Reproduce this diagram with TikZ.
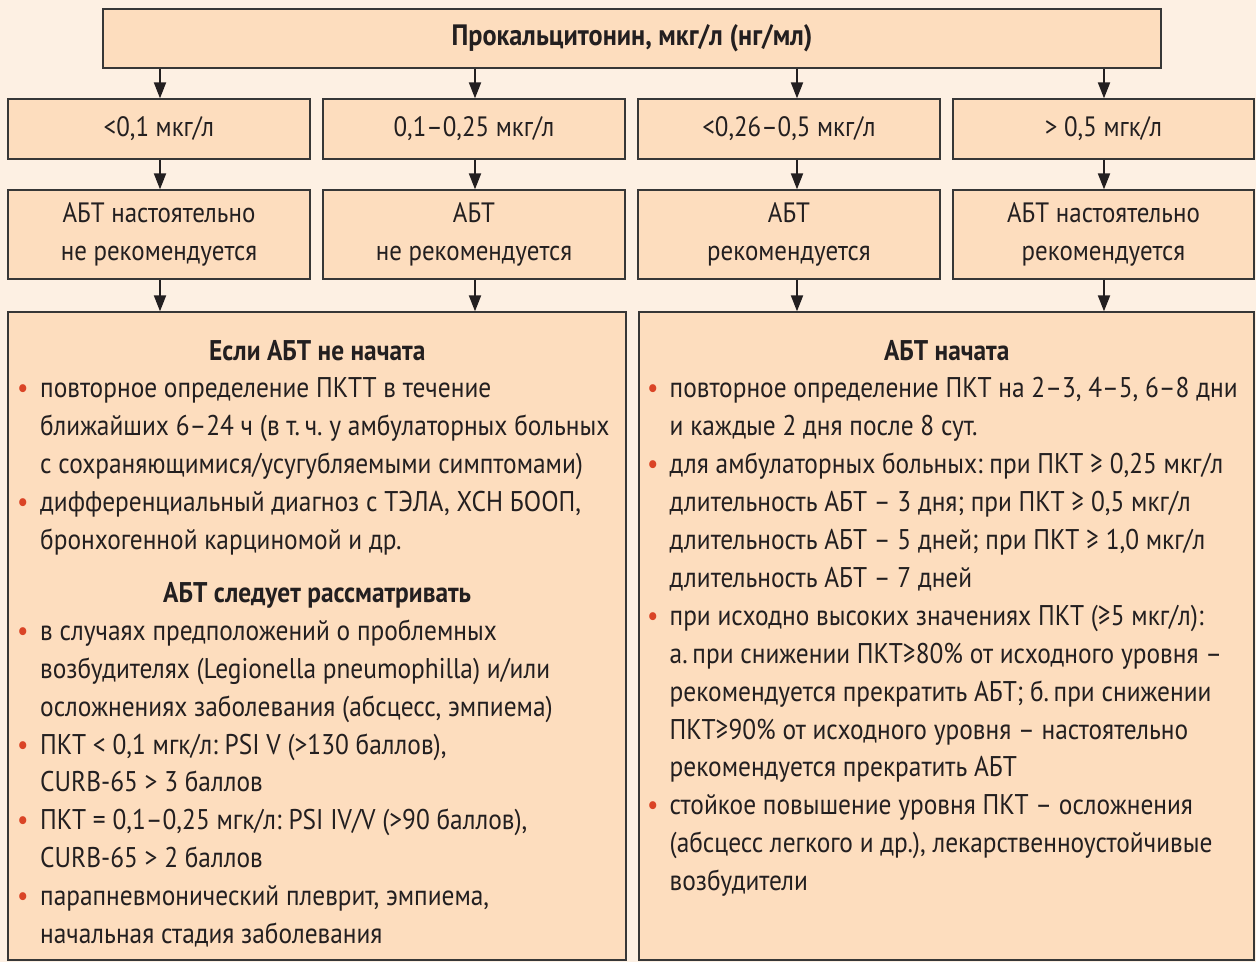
\documentclass[tikz,border=0pt]{standalone}
\usepackage{fontspec}
\setmainfont{PT Sans}[FakeStretch=0.89]
\usetikzlibrary{arrows.meta}
\definecolor{bgc}{RGB}{253,240,227}
\definecolor{boxc}{RGB}{253,221,190}
\definecolor{linec}{RGB}{55,55,55}
\definecolor{txtc}{RGB}{35,31,32}
\definecolor{bulred}{RGB}{218,68,38}
\frenchspacing
\newlength\bulind
\newcommand\bul{\par\noindent\hangindent=\bulind\hangafter=1\makebox[\bulind][l]{\textcolor{bulred}{•}}\ignorespaces}
\newcommand\btitle[1]{\par{\centering\bfseries #1\par}}
\begin{document}
\begin{tikzpicture}[x=1pt,y=-1pt,
  font=\fontsize{28.5}{37.9}\selectfont, text=txtc,
  box/.style={draw=linec, line width=1.3pt, fill=boxc, rectangle, inner sep=0pt, align=center},
  arr/.style={draw=txtc, line width=2pt, -{Triangle[length=16pt,width=12pt]}}]
\fill[bgc] (0,0) rectangle (1256,962);
\useasboundingbox (0,0) rectangle (1256,962);
% top
\node[box, minimum width=1058pt, minimum height=59pt, font=\fontsize{29.5}{34}\selectfont\bfseries] (top) at (632,38.5) {Прокальцитонин, мкг/л (нг/мл)};
% row 2
\tikzset{rowa/.style={box, minimum width=302pt, minimum height=60pt, font=\fontsize{28}{32}\selectfont}}
\node[rowa] (r1) at (159,129) {<0,1 мкг/л};
\node[rowa] (r2) at (474,129) {0,1–0,25 мкг/л};
\node[rowa] (r3) at (789,129) {<0,26–0,5 мкг/л};
\node[rowa, minimum width=301pt] (r4) at (1103.5,129) {> 0,5 мгк/л};
% row 3
\tikzset{rowb/.style={box, minimum width=302pt, minimum height=89pt, font=\fontsize{28}{38}\selectfont}}
\node[rowb] (s1) at (159,234.5) {АБТ настоятельно\\не рекомендуется};
\node[rowb] (s2) at (474,234.5) {АБТ\\не рекомендуется};
\node[rowb] (s3) at (789,234.5) {АБТ\\рекомендуется};
\node[rowb, minimum width=301pt] (s4) at (1103.5,234.5) {АБТ настоятельно\\рекомендуется};
% bottom boxes
\node[box, minimum width=618pt, minimum height=648pt] (bl) at (317,636) {};
\node[box, minimum width=615pt, minimum height=648pt] (br) at (946.5,636) {};
% arrow columns
\coordinate (c1) at (160,0);
\coordinate (c2) at (475,0);
\coordinate (c3) at (797,0);
\coordinate (c4) at (1104,0);
\foreach \c/\r/\s/\b in {c1/r1/s1/bl, c2/r2/s2/bl, c3/r3/s3/br, c4/r4/s4/br}{
  \draw[arr] (top.south -| \c) -- (\r.north -| \c);
  \draw[arr] (\r.south -| \c) -- (\s.north -| \c);
  \draw[arr] (\s.south -| \c) -- (\b.north -| \c);
}
% left text
\node[anchor=base west, inner sep=0pt] (ltext) at (17,360) {\begin{minipage}[t]{600pt}\setlength\bulind{23pt}\raggedright
\btitle{Если АБТ не начата}
\bul повторное определение ПКТТ в течение\newline
ближайших 6–24 ч (в т.\,ч. у амбулаторных больных\newline
с сохраняющимися/усугубляемыми симптомами)
\bul дифференциальный диагноз с ТЭЛА, ХСН БООП,\newline
бронхогенной карциномой и др.
\par\vspace{15pt}
\btitle{АБТ следует рассматривать}
\bul в случаях предположений о проблемных\newline
возбудителях (Legionella pneumophilla) и/или\newline
осложнениях заболевания (абсцесс, эмпиема)
\bul ПКТ < 0,1 мгк/л: PSI V (>130 баллов),\newline
CURB-65 > 3 баллов
\bul ПКТ = 0,1–0,25 мгк/л: PSI IV/V (>90 баллов),\newline
CURB-65 > 2 баллов
\bul парапневмонический плеврит, эмпиема,\newline
начальная стадия заболевания
\end{minipage}};
% right text
\node[anchor=base west, inner sep=0pt] (rtext) at (647,360) {\begin{minipage}[t]{599pt}\setlength\bulind{22.5pt}\raggedright
\btitle{АБТ начата}
\bul повторное определение ПКТ на 2–3, 4–5, 6–8 дни\newline
и каждые 2 дня после 8 сут.
\bul для амбулаторных больных: при ПКТ ≥ 0,25 мкг/л\newline
длительность АБТ – 3 дня; при ПКТ ≥ 0,5 мкг/л\newline
длительность АБТ – 5 дней; при ПКТ ≥ 1,0 мкг/л\newline
длительность АБТ – 7 дней
\bul при исходно высоких значениях ПКТ (≥5 мкг/л):\newline
а.\,при снижении ПКТ≥80\% от исходного уровня –\newline
рекомендуется прекратить АБТ; б.\,при снижении\newline
ПКТ≥90\% от исходного уровня – настоятельно\newline
рекомендуется прекратить АБТ
\bul стойкое повышение уровня ПКТ – осложнения\newline
(абсцесс легкого и др.), лекарственноустойчивые\newline
возбудители
\end{minipage}};
\end{tikzpicture}
\end{document}
